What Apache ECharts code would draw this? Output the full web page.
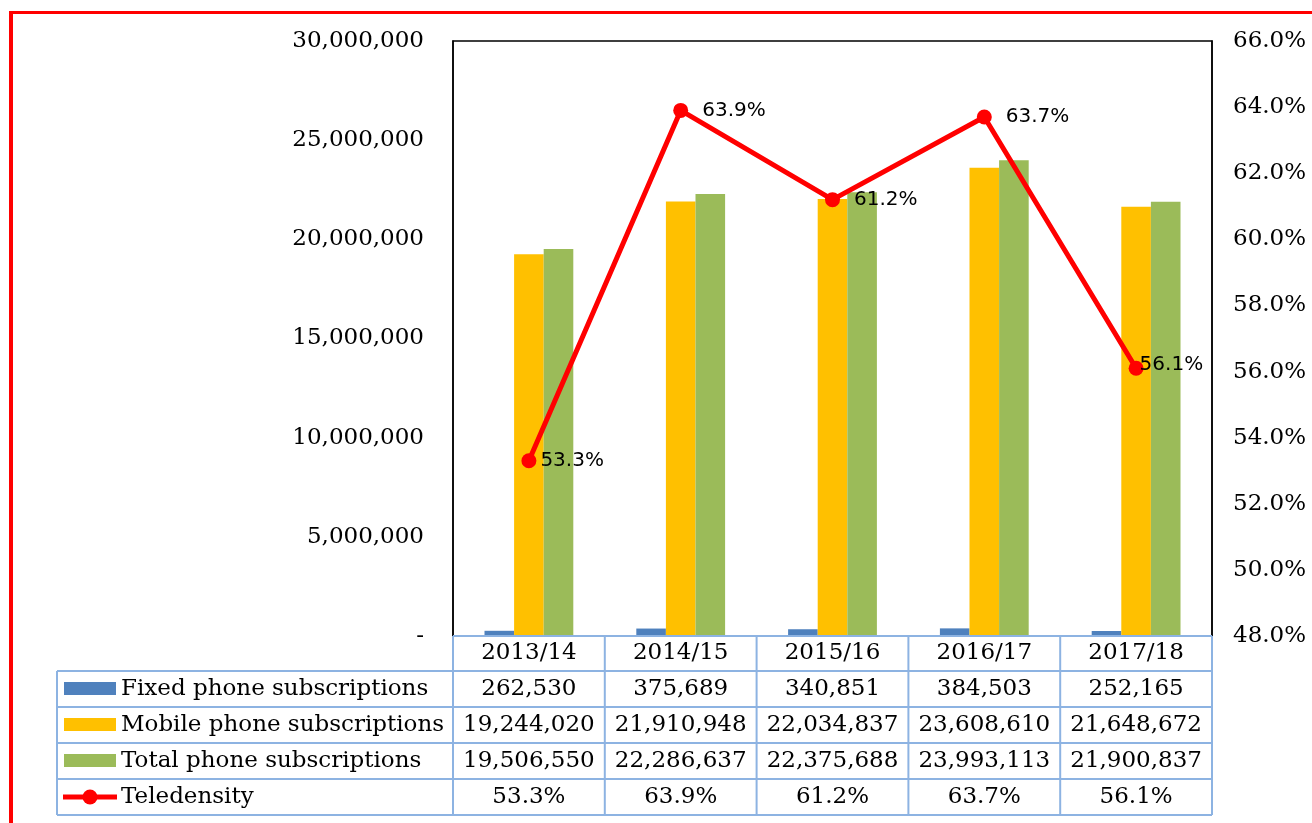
<!DOCTYPE html>
<html lang="en">
<head>
    <meta charset="UTF-8">
    <title>Phone subscriptions and teledensity</title>
    <script src="https://cdn.jsdelivr.net/npm/echarts@6/dist/echarts.min.js"></script>
    <style>
        body { margin: 0; background: #fff; }
    </style>
</head>
<body>
<div id="main" style="width: 1312px;height:823px;"></div>
<script type="text/javascript">
    // data
    var categories = ['2013/14', '2014/15', '2015/16', '2016/17', '2017/18'];
    var fixedSubs = [262530, 375689, 340851, 384503, 252165];
    var mobileSubs = [19244020, 21910948, 22034837, 23608610, 21648672];
    var totalSubs = [19506550, 22286637, 22375688, 23993113, 21900837];
    var teledensity = [53.3, 63.9, 61.2, 63.7, 56.1];
    var seriesNames = ['Fixed phone subscriptions', 'Mobile phone subscriptions', 'Total phone subscriptions', 'Teledensity'];
    var colors = ['#4F81BD', '#FFC000', '#9BBB59', '#FF0000'];

    var serif = 'DejaVu Serif';
    var fs = 23;

    // plot area (px)
    var gLeft = 453, gRight = 1212, gTop = 41, gBottom = 636;
    var tableLeft = 57;
    var rowY = [636, 671, 707, 743, 779, 815];
    var lineColor = '#8DB3E2';

    function fmt(n) { return n.toLocaleString('en-US'); }
    function pct(v) { return v.toFixed(1) + '%'; }

    var myChart = echarts.init(document.getElementById('main'));

    // build table graphics
    var g = [];
    var colW = (gRight - gLeft) / categories.length;
    // horizontal lines
    g.push({ type: 'line', shape: { x1: gLeft, y1: rowY[0], x2: gRight, y2: rowY[0] }, style: { stroke: lineColor, lineWidth: 2 } });
    for (var r = 1; r < rowY.length; r++) {
        g.push({ type: 'line', shape: { x1: tableLeft, y1: rowY[r], x2: gRight, y2: rowY[r] }, style: { stroke: lineColor, lineWidth: 2 } });
    }
    // vertical lines
    g.push({ type: 'line', shape: { x1: tableLeft, y1: rowY[1], x2: tableLeft, y2: rowY[5] }, style: { stroke: lineColor, lineWidth: 2 } });
    for (var c = 0; c <= categories.length; c++) {
        var x = gLeft + c * colW;
        g.push({ type: 'line', shape: { x1: x, y1: rowY[0], x2: x, y2: rowY[5] }, style: { stroke: lineColor, lineWidth: 2 } });
    }
    // rows
    var rows = [fixedSubs.map(fmt), mobileSubs.map(fmt), totalSubs.map(fmt), teledensity.map(pct)];
    for (var r = 0; r < rows.length; r++) {
        var cy = (rowY[r + 1] + rowY[r + 2]) / 2;
        // legend keys
        if (r < 3) {
            g.push({ type: 'rect', shape: { x: 64, y: cy - 7, width: 52, height: 13 }, style: { fill: colors[r] } });
        } else {
            g.push({ type: 'line', shape: { x1: 63, y1: cy, x2: 117, y2: cy }, style: { stroke: colors[3], lineWidth: 5 } });
            g.push({ type: 'circle', shape: { cx: 90, cy: cy, r: 7.5 }, style: { fill: colors[3] } });
        }
        g.push({ type: 'text', x: 121, y: cy, style: { text: seriesNames[r], font: fs + 'px "' + serif + '"', fill: '#000', verticalAlign: 'middle', align: 'left' } });
        for (var c = 0; c < categories.length; c++) {
            g.push({ type: 'text', x: gLeft + (c + 0.5) * colW, y: cy, style: { text: rows[r][c], font: fs + 'px "' + serif + '"', fill: '#000', verticalAlign: 'middle', align: 'center' } });
        }
    }
    // red frame
    g.push({ type: 'rect', shape: { x: 9, y: 11, width: 1303, height: 3 }, style: { fill: '#FF0000' } });
    g.push({ type: 'rect', shape: { x: 9, y: 11, width: 4, height: 812 }, style: { fill: '#FF0000' } });

    var lineData = teledensity.map(function (v, i) {
        var d = { value: v };
        if (i === 0) d.label = { distance: 4 };
        if (i === 4) d.label = { distance: -4, offset: [0, -3] };
        return d;
    });

    myChart.setOption({
        animation: false,
        textStyle: { fontFamily: serif },
        grid: {
            left: gLeft, right: 1312 - gRight, top: gTop, bottom: 823 - gBottom,
            show: true, borderColor: '#000', borderWidth: 1.5
        },
        xAxis: {
            type: 'category',
            data: categories,
            axisLine: { show: false },
            axisTick: { show: false },
            axisLabel: { color: '#000', fontSize: fs, fontFamily: serif, margin: 6 }
        },
        yAxis: [
            {
                type: 'value', min: 0, max: 30000000, interval: 5000000,
                splitLine: { show: false },
                axisLine: { show: true, lineStyle: { color: '#000', width: 1.5 } },
                axisTick: { show: false },
                axisLabel: {
                    color: '#000', fontSize: fs, fontFamily: serif, margin: 29,
                    formatter: function (v) { return v === 0 ? '-' : fmt(v); }
                }
            },
            {
                type: 'value', min: 48, max: 66, interval: 2,
                splitLine: { show: false },
                axisLine: { show: true, lineStyle: { color: '#000', width: 1.5 } },
                axisTick: { show: false },
                axisLabel: {
                    color: '#000', fontSize: fs, fontFamily: serif, margin: 21,
                    formatter: function (v) { return pct(v); }
                }
            }
        ],
        series: [
            { name: seriesNames[0], type: 'bar', data: fixedSubs, barWidth: '19.5%', barGap: '0%', itemStyle: { color: colors[0] } },
            { name: seriesNames[1], type: 'bar', data: mobileSubs, barWidth: '19.5%', barGap: '0%', itemStyle: { color: colors[1] } },
            { name: seriesNames[2], type: 'bar', data: totalSubs, barWidth: '19.5%', barGap: '0%', itemStyle: { color: colors[2] } },
            {
                name: seriesNames[3], type: 'line', yAxisIndex: 1, data: lineData,
                symbol: 'circle', symbolSize: 15, z: 5,
                lineStyle: { color: colors[3], width: 5 },
                itemStyle: { color: colors[3] },
                label: {
                    show: true, position: 'right', distance: 14,
                    fontFamily: 'DejaVu Sans', fontSize: 20, color: '#000',
                    formatter: function (p) { return pct(p.value); }
                }
            }
        ],
        graphic: { elements: g.map(function (e) { e.z = 100; return e; }) }
    });
</script>
</body>
</html>
